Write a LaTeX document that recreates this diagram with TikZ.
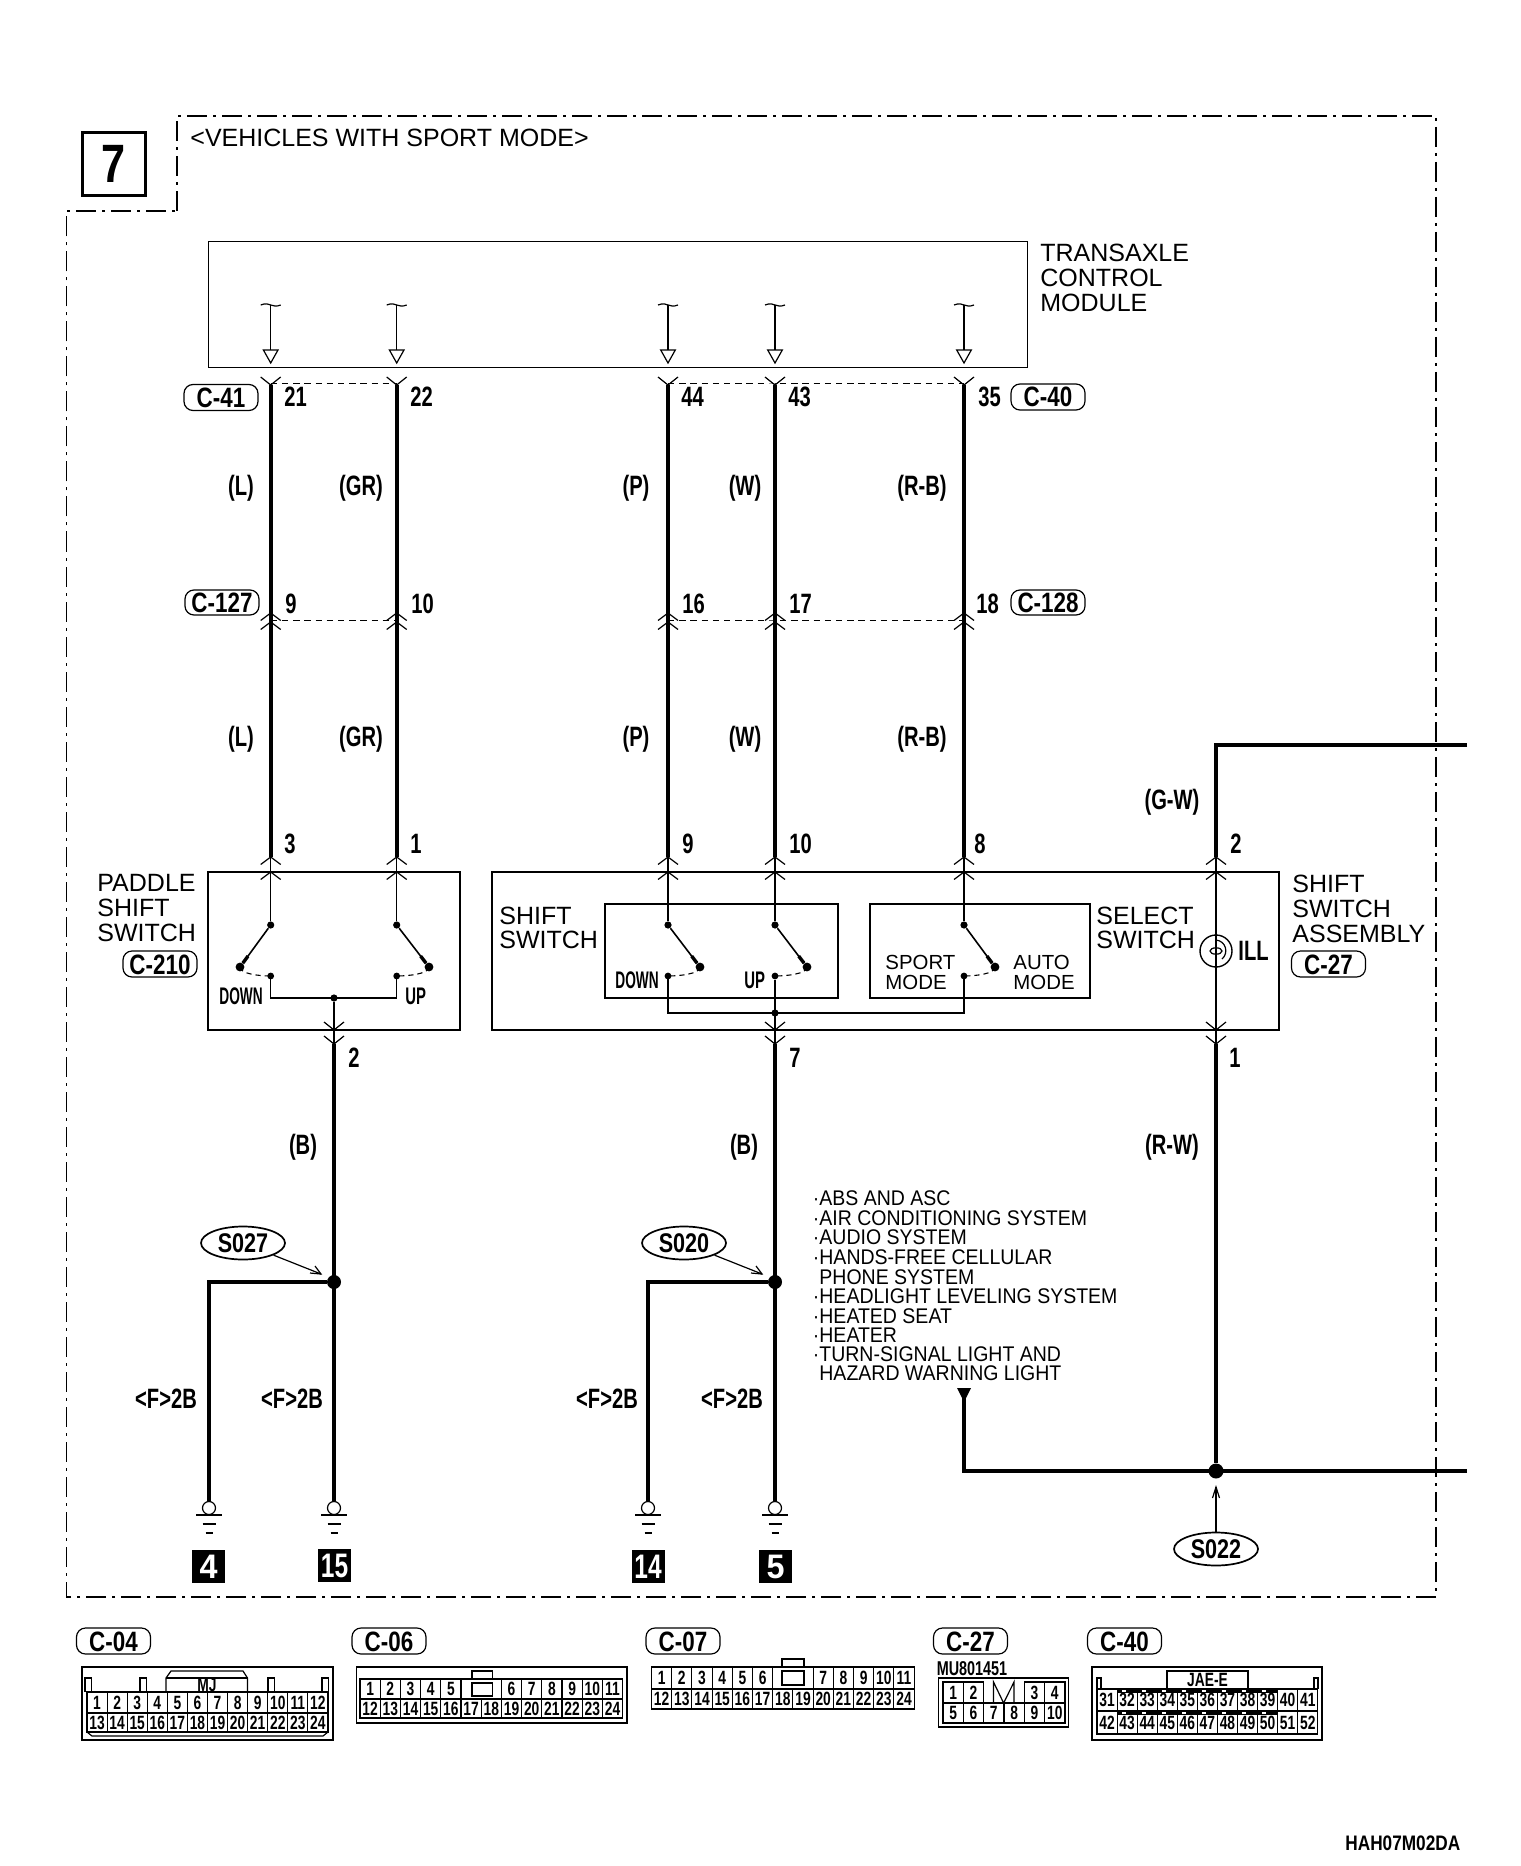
\documentclass[tikz,border=0pt]{standalone}
\usepackage{graphicx}
\usepackage{fontspec}
\setmainfont{Liberation Sans}
\usetikzlibrary{calc,shapes.geometric}
\newcommand{\cnd}[1]{\scalebox{.72}[1]{#1}}
\newcommand{\pcnd}[1]{\scalebox{.8}[1]{#1}}
\newcommand{\lnr}[1]{\scalebox{.92}[1]{#1}}
\tikzset{
  border/.style={line width=.6pt,dash pattern=on 10pt off 3pt on 1.5pt off 3pt},
  thinw/.style={line width=.6pt},
  boxw/.style={draw,line width=.6pt},
  wire/.style={line width=2pt},
  conn/.style={line width=.5pt,dash pattern=on 3.2pt off 2.4pt},
  dot/.style={circle,fill=black,inner sep=0pt,minimum size=3.6pt},
  reg/.style={inner sep=0pt,font=\fontsize{12.5}{12.5}\selectfont,text height=9pt,text depth=0pt,anchor=west},
  small/.style={inner sep=0pt,font=\fontsize{10.2}{10.2}\selectfont,text height=7.3pt,text depth=0pt,anchor=west},
  lst/.style={inner sep=0pt,font=\fontsize{10.6}{10.6}\selectfont,text height=7.6pt,text depth=0pt,anchor=west},
  lab/.style={inner sep=0pt,font=\fontsize{14}{14}\selectfont\bfseries,text height=10pt,text depth=0pt},
  sml/.style={inner sep=0pt,font=\fontsize{12}{12}\selectfont\bfseries,text height=8.6pt,text depth=0pt},
  pill/.style={draw,line width=.6pt,rounded corners=4.5pt,minimum height=13pt,minimum width=37pt,inner sep=0pt,
     font=\fontsize{14}{14}\selectfont\bfseries,text height=10pt,text depth=0pt},
  splice/.style={draw,ellipse,line width=.85pt,minimum width=42pt,minimum height=16.5pt,inner sep=0pt,
     font=\fontsize{13.5}{13.5}\selectfont\bfseries,text height=9.6pt,text depth=0pt},
  numbox/.style={fill=black,text=white,minimum size=16.5pt,inner sep=0pt,
     font=\fontsize{17}{17}\selectfont\bfseries,text height=12pt,text depth=0pt},
  cell/.style 2 args={draw,line width=.55pt,inner sep=0pt,minimum width=#1*0.5pt,minimum height=#2*0.5pt,
     font=\fontsize{9.6}{9.6}\selectfont\bfseries,text height=6.9pt,text depth=0pt},
  chevup/.pic={\draw[thinw] (-10,7.5)--(0,0)--(10,7.5);},
  chevdn/.pic={\draw[thinw] (-10,-8)--(0,0)--(10,-8);},
  gnd/.pic={\draw[line width=.6pt,fill=white] (0,-7) circle [radius=6.5];
     \draw[line width=.6pt] (-13,0)--(13,0) (-6.5,9)--(6.5,9);
     \draw[line width=.8pt] (-3.5,18)--(3.5,18);},
  tcm/.pic={\draw[thinw] (-10,1) .. controls (-5,-1) and (-2,0) .. (0,1) .. controls (3,2.5) and (6,2.5) .. (10,1);
     \draw[thinw] (0,1)--(0,46);
     \draw[thinw] (-7.3,46)--(7.3,46)--(0,59)--cycle;},
}
% name, x, blade end x
\newcommand{\swt}[3]{%
  \node[dot] (#1p) at (#2,925) {};
  \node[dot,minimum size=4.4pt] (#1e) at (#3,967) {};
  \node[dot,minimum size=3.4pt] (#1c) at (#2,976) {};
  \draw[line width=.8pt] (#1p) -- (#1e);
  \draw[line width=1.7pt] ($(#1p)!.74!(#1e)$) -- (#1e);
  \draw[line width=.55pt,dash pattern=on 2.6pt off 2pt] (#1e.center) .. controls ($(#1e.center)+(0,7)$) and ($(#1c.center)!.35!(#1e.center |- #1c.center)$) .. (#1c.center);
}
% prefix, x0, ycentre, w, h, list
\newcommand{\crow}[6]{%
  \foreach \n [count=\i from 0] in {#6} {
    \node[cell={#4}{#5}] (#1-\n) at ({#2+(\i+.5)*#4},#3) {\cnd{\n}};
  }
}
\begin{document}
\begin{tikzpicture}[x=0.5pt,y=-0.5pt]
\useasboundingbox (0,0) rectangle (1520,1866);
\fill[white] (0,0) rectangle (1520,1866);

% frame
\coordinate (fa) at (177,211); \coordinate (fb) at (177,116); \coordinate (fc) at (1436,116);
\coordinate (fd) at (1436,1597); \coordinate (fe) at (66.5,1597); \coordinate (ff) at (66.5,211);
\draw[border] (fa) -- (fb) -- (fc) -- (fd) -- (fe) -- (ff) -- cycle;
\node[draw,line width=1.3pt,minimum size=31.5pt,inner sep=0pt,font=\fontsize{27}{27}\selectfont\bfseries,text height=19pt,text depth=0pt] (seven) at (114,164) {\scalebox{.8}[1]{7}};
\node[reg] (title) at (190,138) {<VEHICLES WITH SPORT MODE>};

% module
\node[draw,line width=.5pt,minimum width=409.5pt,minimum height=63pt,inner sep=0pt] (tcmbox) at (617.5,305) {};
\node[reg] (tcma) at (1040,253) {TRANSAXLE};
\node[reg] (tcmb) at (1040,278) {CONTROL};
\node[reg] (tcmc) at (1040,303) {MODULE};
\foreach \x in {270.7,396.7,668,775,964} \pic at (\x,304) {tcm};

% wire columns
\foreach \nm/\x in {a/270.7,b/396.7,c/668,d/775,e/964} {
  \coordinate (\nm top) at (\x,385);
  \coordinate (\nm mid) at (\x,620);
  \coordinate (\nm bot) at (\x,857);
  \coordinate (\nm ins) at (\x,872);
  \draw[wire] (\nm top) -- (\nm bot);
  \pic at (\nm top) {chevdn};
  \pic[yshift=3.5pt] at (\nm mid) {chevup};
  \pic[yshift=-1pt] at (\nm mid) {chevup};
  \pic at (\nm bot) {chevup};
  \pic at (\nm ins) {chevup};
}
\draw[conn] ($(atop)+(0,-1)$) -- ($(btop)+(0,-1)$);
\draw[conn] ($(ctop)+(0,-1)$) -- ($(dtop)+(0,-1)$) -- ($(etop)+(0,-1)$);
\draw[conn] (amid) -- (bmid);
\draw[conn] (cmid) -- (dmid) -- (emid);

% upper labels
\node[pill] (pC41) at (221,397.5) {\pcnd{C-41}};
\node[pill] (pC40) at (1048,397) {\pcnd{C-40}};
\node[pill,minimum height=12.5pt] (pC127) at (222,602.5) {\pcnd{C-127}};
\node[pill,minimum height=12.5pt] (pC128) at (1048,602.5) {\pcnd{C-128}};
\foreach \nm/\x/\t in {l21/284/21,l22/410/22,l44/681/44,l43/788/43,l35/978/35} \node[lab,anchor=west] (\nm) at (\x,397) {\cnd{\t}};
\foreach \nm/\x/\t in {l9/285/9,l10/411/10,l16/682/16,l17/789/17,l18/976/18} \node[lab,anchor=west] (\nm) at (\x,603) {\cnd{\t}};
\foreach \nm/\x/\t in {k3/284/3,k1/410/1,k9/682/9,k10/789/10,k8/974/8,k2/1230/2} \node[lab,anchor=west] (\nm) at (\x,843) {\cnd{\t}};
\foreach \nm/\x/\t in {m2/348/2,m7/789/7,m1/1229/1} \node[lab,anchor=west] (\nm) at (\x,1057) {\cnd{\t}};
\foreach \y/\r in {485/p,736/q} {
  \node[lab] (L\r) at (241,\y) {\cnd{(L)}};
  \node[lab] (GR\r) at (361,\y) {\cnd{(GR)}};
  \node[lab] (P\r) at (636,\y) {\cnd{(P)}};
  \node[lab] (W\r) at (745,\y) {\cnd{(W)}};
  \node[lab] (RB\r) at (922,\y) {\cnd{(R-B)}};
}
\node[lab] (GW) at (1172,799) {\cnd{(G-W)}};
\node[lab] (RW) at (1172,1144) {\cnd{(R-W)}};
\node[lab] (Ba) at (303,1144) {\cnd{(B)}};
\node[lab] (Bb) at (744,1144) {\cnd{(B)}};

% paddle shift switch
\node[boxw,minimum width=126pt,minimum height=79pt,inner sep=0pt] (padbox) at (334,951) {};
\node[reg] (pada) at (97,882) {PADDLE};
\node[reg] (padb) at (97,907) {SHIFT};
\node[reg] (padc) at (97,932) {SWITCH};
\node[pill] (pC210) at (160,964) {\pcnd{C-210}};
\swt{a}{270.7}{240}
\swt{b}{396.7}{429}
\draw[thinw] (abot) -- (ap);
\draw[thinw] (bbot) -- (bp);
\node[dot] (pj) at (334,998) {};
\draw[thinw] (ac.center) |- (pj.center) -| (bc.center);
\node[sml,anchor=west] (pdown) at (219,996) {\scalebox{.57}[1]{DOWN}};
\node[sml,anchor=west] (pup) at (405,996) {\scalebox{.62}[1]{UP}};
\coordinate (pout) at (334,1030); \coordinate (pb) at (334,1044);
\draw[thinw] (pj) -- (pb);
\pic at (pout) {chevdn}; \pic at (pb) {chevdn};

% shift switch assembly
\node[boxw,minimum width=393.5pt,minimum height=79pt,inner sep=0pt] (asm) at (885.5,951) {};
\node[boxw,minimum width=116.5pt,minimum height=47pt,inner sep=0pt] (ssw) at (721.5,951) {};
\node[boxw,minimum width=110pt,minimum height=47pt,inner sep=0pt] (sel) at (980,951) {};
\node[reg] (ssa) at (499,915) {SHIFT};
\node[reg] (ssb) at (499,939) {SWITCH};
\node[reg] (sea) at (1096,915) {SELECT};
\node[reg] (seb) at (1096,939) {SWITCH};
\node[reg] (asa) at (1292,883) {SHIFT};
\node[reg] (asb) at (1292,908) {SWITCH};
\node[reg] (asc) at (1292,933) {ASSEMBLY};
\node[pill] (pC27) at (1328.5,964) {\pcnd{C-27}};
\swt{c}{668}{700}
\swt{d}{775}{807}
\swt{e}{964}{995}
\draw[thinw] (cbot) -- (cp);
\draw[thinw] (dbot) -- (dp);
\draw[thinw] (ebot) -- (ep);
\node[dot] (sj) at (775,1013) {};
\draw[thinw] (cc.center) |- (sj.center) -| (ec.center);
\coordinate (sout) at (775,1030); \coordinate (sb) at (775,1044);
\draw[thinw] (dc) -- (sb);
\pic at (sout) {chevdn}; \pic at (sb) {chevdn};
\node[sml,anchor=west] (sdown) at (615,980) {\scalebox{.57}[1]{DOWN}};
\node[sml,anchor=west] (sup) at (744,980) {\scalebox{.62}[1]{UP}};
\node[small] (spa) at (885,962) {SPORT};
\node[small] (spb) at (885,982) {MODE};
\node[small] (aua) at (1013,962) {AUTO};
\node[small] (aub) at (1013,982) {MODE};

% illumination branch
\coordinate (gr) at (1467,745); \coordinate (gt) at (1216,745); \coordinate (gb) at (1216,857); \coordinate (gi) at (1216,872);
\coordinate (go) at (1216,1030); \coordinate (gh) at (1216,1044);
\draw[wire] (gr) -- (gt) -- (gb);
\draw[thinw] (gb) -- (gh);
\pic at (gb) {chevup}; \pic at (gi) {chevup}; \pic at (go) {chevdn}; \pic at (gh) {chevdn};
\node[draw,circle,line width=.7pt,minimum size=16pt,inner sep=0pt] (lamp) at (1216,951) {};
\draw[line width=.6pt] (1216,951) ellipse [x radius=6,y radius=3.2];
\draw[line width=.6pt] (1216,940) .. controls (1226,941) and (1229,953) .. (1222,959);
\node[lab,anchor=west] (ill) at (1238,950) {\cnd{ILL}};

% lower wires
\node[dot,minimum size=7pt] (ja) at (334,1282) {};
\node[dot,minimum size=7pt] (jb) at (775,1282) {};
\node[dot,minimum size=7.5pt] (jc) at (1216,1471) {};
\coordinate (gfour) at (209,1508); \coordinate (gfifteen) at (334,1508); \coordinate (gfourteen) at (648,1508); \coordinate (gfive) at (775,1508);
\coordinate (ca) at (209,1282); \coordinate (cb) at (648,1282);
\draw[wire] (pb) -- (gfifteen);
\draw[wire] (sb) -- (gfive);
\draw[wire] (ja) -- (ca) -- (gfour);
\draw[wire] (jb) -- (cb) -- (gfourteen);
\draw[wire] (gh) -- (jc);
\coordinate (er) at (1467,1471); \coordinate (ecr) at (964,1471); \coordinate (et) at (964,1395);
\draw[wire] (er) -- (ecr) -- (et);
\fill (957,1388) -- (971,1388) -- (964,1402) -- cycle;
\foreach \g in {gfour,gfifteen,gfourteen,gfive} \pic at ($(\g)+(0,7)$) {gnd};
\node[numbox] (nfour) at (208.5,1566.5) {\scalebox{.95}[1]{4}};
\node[numbox] (nfifteen) at (334.5,1565.5) {\cnd{15}};
\node[numbox] (nfourteen) at (648,1566) {\cnd{14}};
\node[numbox] (nfive) at (775.5,1566) {\scalebox{.95}[1]{5}};
\foreach \nm/\x in {fga/166,fgb/292,fgc/607,fgd/732} \node[lab] (\nm) at (\x,1398) {\cnd{<F>2B}};

% splices
\node[splice] (s27) at (243,1243) {\pcnd{S027}};
\node[splice] (s20) at (684,1243) {\pcnd{S020}};
\node[splice] (s22) at (1216,1549) {\pcnd{S022}};
\coordinate (t27) at (321,1274); \coordinate (t20) at (762,1274); \coordinate (t22) at (1216,1487);
\draw[thinw] (s27) -- (t27);
\draw[thinw] (s20) -- (t20);
\draw[thinw] (s22) -- (t22);
\draw[thinw] ($(t27)+(-11,-1)$) -- (t27) -- ($(t27)+(-6,-8)$);
\draw[thinw] ($(t20)+(-11,-1)$) -- (t20) -- ($(t20)+(-6,-8)$);
\draw[thinw] ($(t22)+(-3.5,11)$) -- (t22) -- ($(t22)+(3.5,11)$);

% system list
\node[lst] (ia) at (819,1198) {\lnr{\llap{·}ABS AND ASC}};
\node[lst] (ib) at (819,1218) {\lnr{\llap{·}AIR CONDITIONING SYSTEM}};
\node[lst] (ic) at (819,1237) {\lnr{\llap{·}AUDIO SYSTEM}};
\node[lst] (id) at (819,1257) {\lnr{\llap{·}HANDS-FREE CELLULAR}};
\node[lst] (ie) at (819,1277) {\lnr{PHONE SYSTEM}};
\node[lst] (if) at (819,1296) {\lnr{\llap{·}HEADLIGHT LEVELING SYSTEM}};
\node[lst] (ig) at (819,1316) {\lnr{\llap{·}HEATED SEAT}};
\node[lst] (ih) at (819,1335) {\lnr{\llap{·}HEATER}};
\node[lst] (ii) at (819,1354) {\lnr{\llap{·}TURN-SIGNAL LIGHT AND}};
\node[lst] (ij) at (819,1373) {\lnr{HAZARD WARNING LIGHT}};

% connector C-04
\node[pill] (hC04) at (113.5,1641) {\pcnd{C-04}};
\node[boxw,minimum width=125.5pt,minimum height=36.5pt,inner sep=0pt] (b04) at (207.5,1703.5) {};
\crow{c04a}{87}{1702.5}{20.08}{21}{1,2,3,4,5,6,7,8,9,10,11,12}
\crow{c04b}{87}{1722.5}{20.08}{19}{13,14,15,16,17,18,19,20,21,22,23,24}
\draw[thinw] (166,1692) -- (166,1678) -- (171,1671) -- (243,1671) -- (247.5,1678) -- (247.5,1692);
\draw[thinw] (166,1678) -- (247.5,1678);
\foreach \x in {85,140,268,322} \draw[thinw] (\x,1692) -- (\x,1678) -- (\x+6.5,1678) -- (\x+6.5,1692);
\draw[thinw] (87,1732) -- (92,1736) -- (323,1736) -- (328,1732);
\node[sml,font=\fontsize{9.6}{9.6}\selectfont\bfseries,text height=6.9pt] (mj) at (207,1685) {\cnd{MJ}};

% connector C-06
\node[pill] (hC06) at (389,1641) {\pcnd{C-06}};
\node[boxw,minimum width=135.2pt,minimum height=28pt,inner sep=0pt] (b06) at (491.8,1695) {};
\crow{c06a}{360}{1689}{20.2}{20}{1,2,3,4,5}
\crow{c06c}{501.4}{1689}{20.2}{20}{6,7,8,9,10,11}
\crow{c06b}{360}{1708.5}{20.2}{19}{12,13,14,15,16,17,18,19,20,21,22,23,24}
\draw[thinw] (472,1683) rectangle (492.5,1696);
\draw[thinw] (472,1679) -- (472,1671) -- (492.5,1671) -- (492.5,1679);
\draw[thinw] (461,1679) -- (501.4,1679);

% connector C-07
\node[pill] (hC07) at (683,1641) {\pcnd{C-07}};
\crow{c07a}{651.5}{1678}{20.2}{22}{1,2,3,4,5,6}
\crow{c07c}{813.1}{1678}{20.2}{22}{7,8,9,10,11}
\crow{c07b}{651.5}{1699}{20.2}{20}{12,13,14,15,16,17,18,19,20,21,22,23,24}
\draw[thinw] (772.7,1667) -- (813.1,1667);
\draw[thinw] (782,1671) rectangle (804,1685);
\draw[thinw] (782,1667) -- (782,1659) -- (804,1659) -- (804,1667);

% connector C-27
\node[pill] (hC27) at (970.5,1641) {\pcnd{C-27}};
\node[sml,font=\fontsize{10}{10}\selectfont\bfseries,text height=7.2pt] (mu) at (972,1668) {\cnd{MU801451}};
\node[boxw,minimum width=65pt,minimum height=24.5pt,inner sep=0pt] (b27) at (1003.4,1702.5) {};
\crow{c27a}{943}{1692.5}{20.33}{21}{1,2}
\crow{c27c}{1024.3}{1692.5}{20.33}{21}{3,4}
\crow{c27b}{943}{1713}{20.33}{20}{5,6,7,8,9,10}
\draw[thinw] (993.5,1703) -- (993.5,1682) -- (1003.6,1703) -- (1014,1682) -- (1014,1703);

% connector C-40
\node[pill] (hC40) at (1124.5,1641) {\pcnd{C-40}};
\node[boxw,minimum width=115pt,minimum height=36.5pt,inner sep=0pt] (b40) at (1207,1703.5) {};
\crow{c40a}{1097}{1700}{20.07}{22}{31,32,33,34,35,36,37,38,39,40,41}
\crow{c40b}{1097}{1722.5}{20.07}{23}{42,43,44,45,46,47,48,49,50,51,52}
\node[boxw,minimum width=40.5pt,minimum height=9pt,inner sep=0pt,font=\fontsize{9.6}{9.6}\selectfont\bfseries,text height=6.9pt,text depth=0pt] (jae) at (1207.5,1680) {\cnd{JAE-E}};
\draw[thinw] (1097,1689) -- (1097,1678) -- (1101,1678) -- (1101,1689);
\draw[thinw] (1314,1689) -- (1314,1678) -- (1318,1678) -- (1318,1689);
\foreach \y in {1691,1713} {
  \draw[line width=1.8pt] (1117,\y) -- (1278,\y);
  \draw[line width=.7pt,white,dash pattern=on 2pt off 8pt] (1122,\y) -- (1278,\y);
}

% drawing number
\node[sml,anchor=west,font=\fontsize{10.5}{10.5}\selectfont\bfseries,text height=7.6pt] (dwg) at (1345,1843) {\scalebox{.82}[1]{HAH07M02DA}};
\end{tikzpicture}
\end{document}
